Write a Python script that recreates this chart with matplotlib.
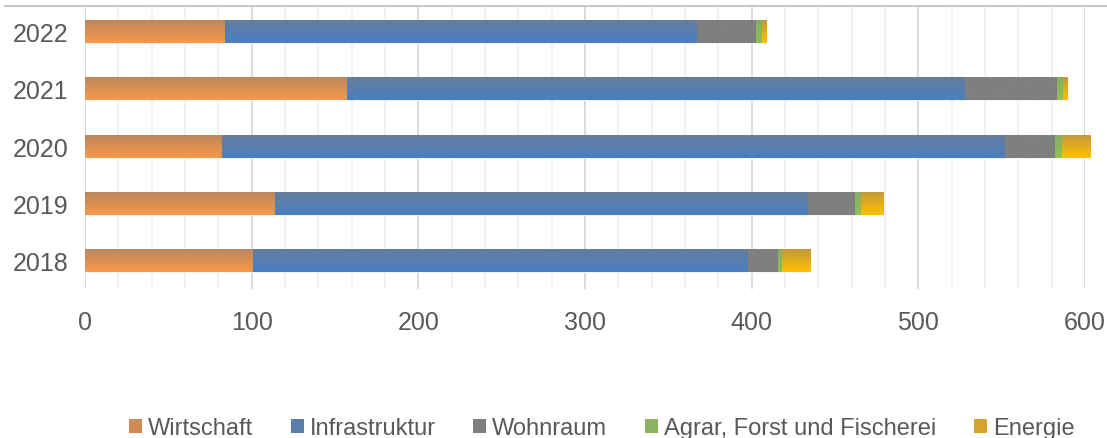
import numpy as np
import matplotlib
matplotlib.use("Agg")
import matplotlib.pyplot as plt
from matplotlib.lines import Line2D
from matplotlib.patches import Patch
from matplotlib.colors import LinearSegmentedColormap

years = ["2018", "2019", "2020", "2021", "2022"]
series_names = ["Wirtschaft", "Infrastruktur", "Wohnraum", "Agrar, Forst und Fischerei", "Energie"]
wirtschaft = [101, 114, 82, 157, 84]
infrastruktur = [297, 320, 470, 371, 283]
wohnraum = [17.6, 28, 30, 55, 35.5]
agrar = [2.8, 3.6, 4.4, 4, 3.6]
energie = [17, 13.4, 17.4, 2.6, 2.8]
xticks = [0, 100, 200, 300, 400, 500, 600]

series = [wirtschaft, infrastruktur, wohnraum, agrar, energie]
# (top colour, bottom colour) of the vertical gradient, legend colour
grad = [("#BD875C", "#F7994A", "#D08A55"),
        ("#657D9E", "#4A7FC1", "#5B7DAA"),
        ("#7F7F7F", "#7F7F7F", "#7F7F7F"),
        ("#86AE60", "#8DC254", "#8AB460"),
        ("#C49A38", "#FFC000", "#D4A52A")]

plt.rcParams['font.family'] = ['Liberation Sans', 'DejaVu Sans']

fig = plt.figure(figsize=(11.07, 4.39), dpi=100)
ax = fig.add_axes([85/1107, 1 - 290/439, 1000/1107, 283/439])

ypos = np.arange(len(years))
left = np.zeros(len(years))
for vals, (ctop, cbot, cleg) in zip(series, grad):
    bars = ax.barh(ypos, vals, left=left, height=0.4, color=cleg,
                   edgecolor="#FFFFFF", linewidth=0.6, zorder=3)
    cmap = LinearSegmentedColormap.from_list("g", [cbot, ctop])
    g = np.linspace(0, 1, 64).reshape(-1, 1)
    for b in bars:
        x0, y0 = b.get_x(), b.get_y()
        w, h = b.get_width(), b.get_height()
        im = ax.imshow(g, cmap=cmap, extent=[x0, x0 + w, y0, y0 + h],
                       origin="lower", aspect="auto", zorder=3.5,
                       interpolation="bilinear")
        im.set_clip_path(b)
    left = left + np.array(vals)

ax.set_xlim(0, 600)
ax.set_ylim(-0.5, 4.45)
ax.set_yticks(ypos)
ax.set_yticklabels(years)
ax.set_xticks(xticks)
ax.set_xticklabels([str(t) for t in xticks])
ax.set_xticks(np.arange(0, 601, 20), minor=True)
ax.grid(axis="x", which="major", color="#D9D9D9", linewidth=1.3, zorder=0)
ax.grid(axis="x", which="minor", color="#F0F0F0", linewidth=1.3, zorder=0)
ax.tick_params(axis="both", which="both", length=0, labelsize=18, colors="#595959")
ax.tick_params(axis="y", pad=12)
ax.tick_params(axis="x", pad=15)
for s in ax.spines.values():
    s.set_visible(False)
ax.axvline(0, color="#D9D9D9", linewidth=1.3, zorder=1)

fig.add_artist(Line2D([5/1107, 1], [1 - 7/439, 1 - 7/439], transform=fig.transFigure,
                      color="#C8C8C8", linewidth=1.5))

handles = [Patch(facecolor=c[2], edgecolor="none") for c in grad]
fig.legend(handles, series_names, loc="center", bbox_to_anchor=(601.5/1107, 1 - 429/439),
           ncol=5, frameon=False, fontsize=17, handlelength=0.55, handleheight=0.55,
           handletextpad=0.25, columnspacing=1.6, labelcolor="#595959",
           borderpad=0, borderaxespad=0)

fig.savefig("out.png", dpi=100)
